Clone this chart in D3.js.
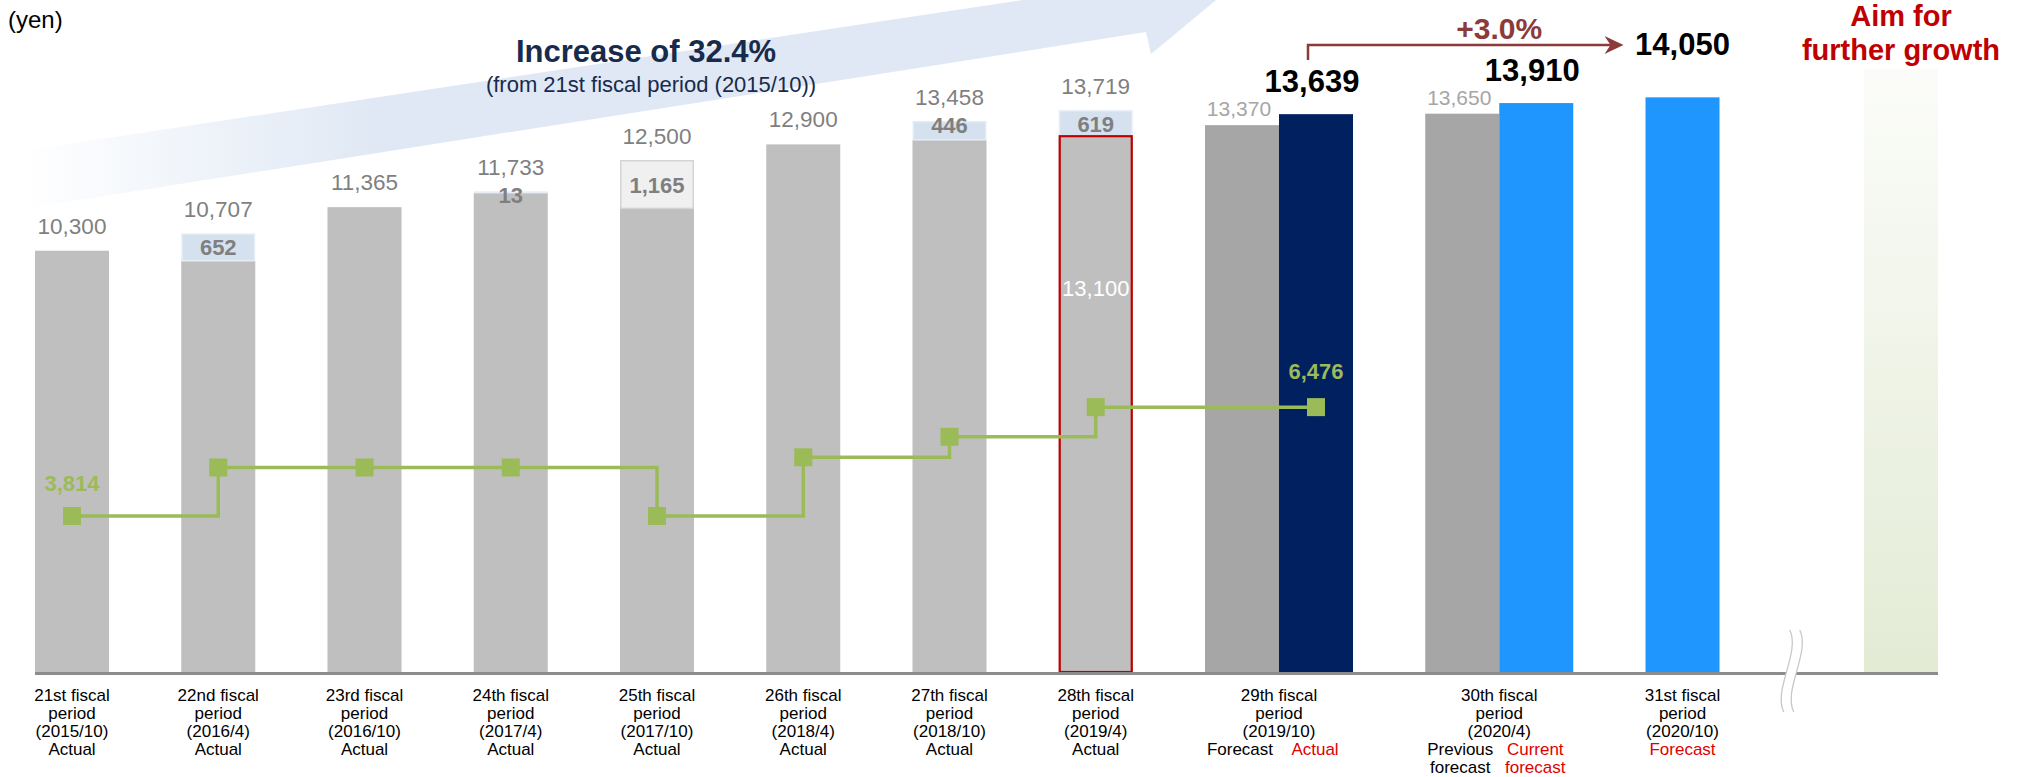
<!DOCTYPE html>
<html>
<head>
<meta charset="utf-8">
<script src="https://cdn.jsdelivr.net/npm/d3@7"></script>
<style>
  html, body { margin: 0; padding: 0; background: #ffffff; }
  svg { display: block; font-family: "Liberation Sans", Arial, Helvetica, sans-serif; }
</style>
</head>
<body>
<svg id="chart" width="2027" height="777"></svg>
<script>
// ---- Distribution per unit (yen) by fiscal period ----
const actualPeriods = ["21st", "22nd", "23rd", "24th", "25th", "26th", "27th", "28th"];
const actualDates   = ["2015/10", "2016/4", "2016/10", "2017/4", "2017/10", "2018/4", "2018/10", "2019/4"];
const actualTotals  = [10300, 10707, 11365, 11733, 12500, 12900, 13458, 13719];
const extraAmounts  = [0, 652, 0, 13, 1165, 0, 446, 619];
const extraKinds    = ["", "gain", "", "gain", "reserve", "", "gain", "gain"];
const baseAmount28  = 13100;

const pairPeriods      = ["29th", "30th"];
const pairDates        = ["2019/10", "2020/4"];
const previousForecast = [13370, 13650];
const latestFigures    = [13639, 13910];
const pairLeftCaption  = [["Forecast"], ["Previous", "forecast"]];
const pairRightCaption = [["Actual"], ["Current", "forecast"]];

const nextPeriod   = "31st";
const nextDate     = "2020/10";
const nextForecast = 14050;
const growthLevel  = 14750;

// stepped line, one point per actual period plus the 29th actual
const stepValues = [3814, 5000, 5000, 5000, 3814, 5250, 5750, 6476, 6476];

// ---- layout ----
const svg = d3.select("#chart");
const baseY = 672;
const y = d3.scaleLinear().domain([0, 16430]).range([baseY, 0]);

const gapUnit = 0.976;
const groupSizes = [...actualPeriods.map(() => 1), 2, 2, 1, 1];
const groupStart = [];
let acc = 0;
groupSizes.forEach((n, i) => {
  if (i > 0) acc += (i === groupSizes.length - 1) ? 2 * gapUnit : gapUnit;
  groupStart.push(acc);
  acc += n;
});
const x = d3.scaleLinear().domain([0, acc]).range([35, 1938]);
const bw = x(1) - x(0);
const barLeft = (g, sub = 0) => x(groupStart[g] + sub);
const barMid  = (g, sub = 0) => x(groupStart[g] + sub + 0.5);
const groupMid = g => x(groupStart[g] + groupSizes[g] / 2);

const defs = svg.append("defs");
const bandGrad = defs.append("linearGradient").attr("id", "bandGrad")
  .attr("gradientUnits", "userSpaceOnUse").attr("x1", 25).attr("y1", 0).attr("x2", 380).attr("y2", 0);
bandGrad.append("stop").attr("offset", 0).attr("stop-color", "#dfe8f4").attr("stop-opacity", 0);
bandGrad.append("stop").attr("offset", 1).attr("stop-color", "#dfe8f4").attr("stop-opacity", 1);

const growGrad = defs.append("linearGradient").attr("id", "growGrad")
  .attr("x1", 0).attr("y1", 0).attr("x2", 0).attr("y2", 1);
growGrad.append("stop").attr("offset", 0).attr("stop-color", "#fbfcf9");
growGrad.append("stop").attr("offset", 1).attr("stop-color", "#e3ebd5");

// wide rising arrow behind the chart
svg.append("path")
  .attr("d", "M28,150 L28,208 L1146,32 L1151,54 L1262,-38 L1062,-6 Z")
  .attr("fill", "url(#bandGrad)");

// ---- bars ----
const gBars = svg.append("g");

// actual periods: base and additional segment
actualTotals.forEach((total, i) => {
  const extra = extraAmounts[i];
  const base = total - extra;
  gBars.append("rect")
    .attr("x", barLeft(i)).attr("width", bw)
    .attr("y", y(base)).attr("height", baseY - y(base))
    .attr("fill", "#bfbfbf");
  if (extra > 0) {
    const isReserve = extraKinds[i] === "reserve";
    gBars.append("rect")
      .attr("x", barLeft(i) + 0.75).attr("width", bw - 1.5)
      .attr("y", y(total)).attr("height", y(base) - y(total))
      .attr("fill", isReserve ? "#f0f0f0" : "#d5e1ef")
      .attr("stroke", isReserve ? "#d4d4d4" : "#e6edf6")
      .attr("stroke-width", 1.5);
  }
});

// 28th period base highlighted
gBars.append("rect")
  .attr("x", barLeft(7) + 1).attr("width", bw - 2)
  .attr("y", y(baseAmount28)).attr("height", baseY - y(baseAmount28))
  .attr("fill", "none").attr("stroke", "#c00000").attr("stroke-width", 2.2);

// 29th / 30th: previous forecast vs latest figure
const latestColors = ["#002060", "#1e96fe"];
pairPeriods.forEach((p, j) => {
  const g = actualPeriods.length + j;
  gBars.append("rect")
    .attr("x", barLeft(g, 0)).attr("width", bw)
    .attr("y", y(previousForecast[j])).attr("height", baseY - y(previousForecast[j]))
    .attr("fill", "#a6a6a6");
  gBars.append("rect")
    .attr("x", barLeft(g, 1)).attr("width", bw)
    .attr("y", y(latestFigures[j])).attr("height", baseY - y(latestFigures[j]))
    .attr("fill", latestColors[j]);
});

// 31st forecast
const g31 = actualPeriods.length + 2;
gBars.append("rect")
  .attr("x", barLeft(g31)).attr("width", bw)
  .attr("y", y(nextForecast)).attr("height", baseY - y(nextForecast))
  .attr("fill", "#1e96fe");

// further growth
const gGrow = actualPeriods.length + 3;
gBars.append("rect")
  .attr("x", barLeft(gGrow)).attr("width", bw)
  .attr("y", y(growthLevel)).attr("height", baseY - y(growthLevel))
  .attr("fill", "url(#growGrad)");

// baseline
svg.append("line")
  .attr("x1", x(0)).attr("x2", x(acc))
  .attr("y1", baseY + 1.5).attr("y2", baseY + 1.5)
  .attr("stroke", "#8c8c8c").attr("stroke-width", 3);

// axis break between the 31st period and the growth bar
const bx = (x(groupStart[g31] + 1) + barLeft(gGrow)) / 2;
const sCurve = dx => `M${bx + dx + 3},630 C${bx + dx + 14},652 ${bx + dx - 14},690 ${bx + dx - 3},712`;
svg.append("path")
  .attr("d", `M${bx - 2},630 C${bx + 9},652 ${bx - 19},690 ${bx - 8},712 L${bx + 2},712 C${bx - 9},690 ${bx + 19},652 ${bx + 8},630 Z`)
  .attr("fill", "#ffffff");
[-5, 5].forEach(dx => {
  svg.append("path").attr("d", sCurve(dx))
    .attr("fill", "none").attr("stroke", "#c8c8c8").attr("stroke-width", 1.3);
});

// ---- value labels ----
const gLab = svg.append("g");
actualTotals.forEach((total, i) => {
  gLab.append("text")
    .attr("x", barMid(i)).attr("y", y(total) - 17)
    .attr("text-anchor", "middle").attr("font-size", 22.5).attr("fill", "#7f7f7f")
    .text(d3.format(",")(total));
  const extra = extraAmounts[i];
  if (extra > 0) {
    const top = y(total), bot = y(total - extra);
    const by = (bot - top) < 20 ? top + 11 : (top + bot) / 2 + 8;
    gLab.append("text")
      .attr("x", barMid(i)).attr("y", by)
      .attr("text-anchor", "middle").attr("font-size", 22).attr("font-weight", "bold")
      .attr("fill", "#7f7f7f")
      .text(d3.format(",")(extra));
  }
});
gLab.append("text")
  .attr("x", barMid(7)).attr("y", y(baseAmount28) + 160)
  .attr("text-anchor", "middle").attr("font-size", 22).attr("fill", "#ffffff")
  .text(d3.format(",")(baseAmount28));

pairPeriods.forEach((p, j) => {
  const g = actualPeriods.length + j;
  gLab.append("text")
    .attr("x", barMid(g, 0) - 3).attr("y", y(previousForecast[j]) - 9)
    .attr("text-anchor", "middle").attr("font-size", 21).attr("fill", "#a6a6a6")
    .text(d3.format(",")(previousForecast[j]));
  gLab.append("text")
    .attr("x", barMid(g, 1) - 4).attr("y", y(latestFigures[j]) - 22)
    .attr("text-anchor", "middle").attr("font-size", 31).attr("font-weight", "bold")
    .attr("fill", "#000000")
    .text(d3.format(",")(latestFigures[j]));
});
gLab.append("text")
  .attr("x", barMid(g31)).attr("y", y(nextForecast) - 42)
  .attr("text-anchor", "middle").attr("font-size", 31).attr("font-weight", "bold")
  .attr("fill", "#000000")
  .text(d3.format(",")(nextForecast));

// ---- stepped line ----
const stepX = [...actualPeriods.map((_, i) => barMid(i)), barMid(actualPeriods.length, 1)];
const stepPts = stepValues.map((v, i) => [stepX[i], y(v)]);
const green = "#9bbb59";
svg.append("path")
  .attr("d", d3.line().curve(d3.curveStepAfter)(stepPts))
  .attr("fill", "none").attr("stroke", green).attr("stroke-width", 3.5);
svg.append("g").selectAll("rect").data(stepPts).join("rect")
  .attr("x", d => d[0] - 9).attr("y", d => d[1] - 9)
  .attr("width", 18).attr("height", 18)
  .attr("fill", green);
[0, stepValues.length - 1].forEach(i => {
  svg.append("text")
    .attr("x", stepX[i]).attr("y", y(stepValues[i]) - 25 - (i > 0 ? 3 : 0))
    .attr("text-anchor", "middle").attr("font-size", 22).attr("font-weight", "bold")
    .attr("fill", green)
    .text(d3.format(",")(stepValues[i]));
});

// ---- category labels ----
const gCat = svg.append("g").attr("font-size", 17).attr("text-anchor", "middle");
const lineY = k => 701 + 18 * k;
const catLines = (cx, lines, color = "#000000", start = 0) => {
  lines.forEach((t, k) => {
    gCat.append("text").attr("x", cx).attr("y", lineY(start + k))
      .attr("fill", color).text(t);
  });
};
actualPeriods.forEach((p, i) => {
  catLines(barMid(i), [`${p} fiscal`, "period", `(${actualDates[i]})`, "Actual"]);
});
pairPeriods.forEach((p, j) => {
  const g = actualPeriods.length + j;
  catLines(groupMid(g), [`${p} fiscal`, "period", `(${pairDates[j]})`]);
  catLines(barMid(g, 0) - 2, pairLeftCaption[j], "#000000", 3);
  catLines(barMid(g, 1) - 1, pairRightCaption[j], "#e00000", 3);
});
catLines(barMid(g31), [`${nextPeriod} fiscal`, "period", `(${nextDate})`]);
catLines(barMid(g31), ["Forecast"], "#e00000", 3);

// ---- headline annotations ----
svg.append("text").attr("x", 8).attr("y", 28).attr("font-size", 24).attr("fill", "#000000").text("(yen)");

svg.append("text").attr("x", 646).attr("y", 62)
  .attr("text-anchor", "middle").attr("font-size", 31).attr("font-weight", "bold")
  .attr("fill", "#172b4d").text("Increase of 32.4%");
svg.append("text").attr("x", 651).attr("y", 92)
  .attr("text-anchor", "middle").attr("font-size", 22)
  .attr("fill", "#172b4d").text("(from 21st fiscal period (2015/10))");

// +3.0% bracket from the 29th actual to the 31st forecast
const arrowCol = "#8c3a3a";
const ax0 = barMid(actualPeriods.length, 1) - 8;
const axTip = barLeft(g31) - 22;
svg.append("path")
  .attr("d", `M${ax0},60 V45 H${axTip - 10}`)
  .attr("fill", "none").attr("stroke", arrowCol).attr("stroke-width", 2.5);
svg.append("path")
  .attr("d", `M${axTip},45 L${axTip - 19},36 L${axTip - 13},45 L${axTip - 19},54 Z`)
  .attr("fill", arrowCol);
svg.append("text").attr("x", groupMid(actualPeriods.length + 1)).attr("y", 39)
  .attr("text-anchor", "middle").attr("font-size", 30).attr("font-weight", "bold")
  .attr("fill", arrowCol).text("+3.0%");

svg.append("text").attr("x", barMid(gGrow)).attr("y", 26)
  .attr("text-anchor", "middle").attr("font-size", 29).attr("font-weight", "bold")
  .attr("fill", "#c00000").text("Aim for");
svg.append("text").attr("x", barMid(gGrow)).attr("y", 60)
  .attr("text-anchor", "middle").attr("font-size", 29).attr("font-weight", "bold")
  .attr("fill", "#c00000").text("further growth");
</script>
</body>
</html>
